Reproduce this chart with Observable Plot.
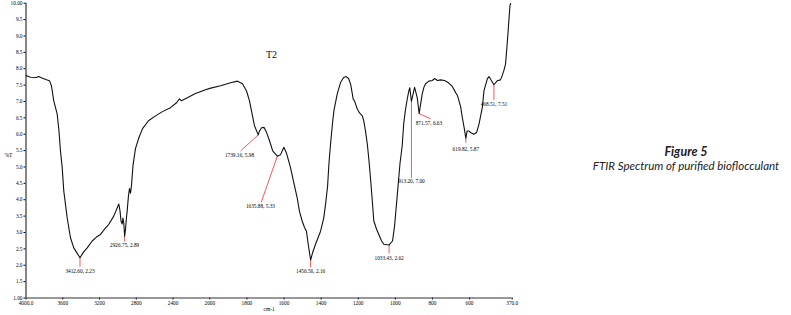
<!DOCTYPE html>
<html>
<head>
<meta charset="utf-8">
<script src="https://cdn.jsdelivr.net/npm/d3@7"></script>
<script src="https://cdn.jsdelivr.net/npm/@observablehq/plot@0.6"></script>
<style>
  html, body { margin: 0; padding: 0; background: #fff; }
  #wrap { position: relative; width: 791px; height: 315px; }
  #caption { position: absolute; left: 576px; top: 145px; width: 220px; text-align: center; font-family: Lato, "Open Sans", sans-serif; font-style: italic; color: #222; }
  #caption .fig { font-weight: bold; font-size: 12.5px; line-height: 14px; }
  #caption .sub { font-size: 11.5px; line-height: 14px; }
  #chart svg text { font-family: 'Liberation Serif', 'DejaVu Serif', serif; }
</style>
</head>
<body>
<div id="wrap">
  <div id="chart"></div>
  <div id="caption"><div class="fig">Figure 5</div><div class="sub">FTIR Spectrum of purified bioflocculant</div></div>
</div>
<script>
// Spectrum (wavenumber cm-1, %T)
const wavenumber = [4000,3951,3886,3864,3820,3777,3744,3723,3698,3661,3641,3625,3606,3589,3552,3516,3480,3451,3412.6,3374,3334,3280,3233,3189,3146,3099,3045,3008,2990,2977,2966,2953,2945,2936,2926.75,2917,2907,2899,2885,2874,2863,2852,2836,2809,2776,2732,2667,2591,2515,2428,2362,2330,2308,2265,2156,2047,2000,1942,1888,1851,1824,1802,1786,1770,1759,1739.16,1732,1721,1708,1694,1678,1661,1635.88,1619,1601,1587,1565,1549,1529,1517,1502,1490,1479,1468,1456.56,1446,1430,1403,1386,1376,1365,1358,1349,1339,1331,1313,1295,1279,1265,1252,1241,1233,1227,1220,1205,1193,1178,1170,1161,1151,1142,1134,1124,1116,1101,1089,1074,1062,1033.43,1015,1004,997,987,975,963,955,946,937,928,922,913.2,896,882,871.57,855,846,837,819,801,789,773,756,735,713,692,675,665,648,638,629,619.82,613,604,594,577,562,549,531,522,504,495,476,468.51,451,433,424,415,406,400,393,388,382,378];
const transmittance = [7.79,7.74,7.73,7.76,7.71,7.66,7.63,7.48,7.02,6.62,6.10,5.49,4.98,4.27,3.45,2.84,2.53,2.40,2.23,2.40,2.53,2.74,2.86,2.94,3.10,3.25,3.50,3.75,3.87,3.66,3.35,3.26,3.44,3.29,2.89,3.10,3.45,3.66,4.12,4.34,4.20,4.43,5.04,5.56,5.86,6.17,6.41,6.56,6.69,6.81,6.96,7.08,7.02,7.08,7.24,7.36,7.40,7.48,7.57,7.62,7.54,7.32,7.02,6.56,6.26,5.98,6.10,6.20,6.21,6.05,5.80,5.49,5.33,5.37,5.60,5.43,4.98,4.57,4.06,3.65,3.35,3.16,3.04,2.58,2.16,2.38,2.64,3.04,3.44,3.86,4.42,5.09,5.71,6.31,6.72,7.23,7.58,7.73,7.76,7.70,7.53,7.27,7.07,7.02,6.77,6.65,6.56,6.41,6.10,5.70,5.19,4.67,3.96,3.35,3.10,2.94,2.74,2.64,2.62,2.74,3.20,3.66,4.30,5.10,5.64,6.31,6.72,7.03,7.30,7.42,7.00,7.43,7.12,6.63,7.23,7.43,7.54,7.62,7.64,7.70,7.64,7.66,7.64,7.57,7.45,7.27,7.18,6.84,6.48,6.20,5.87,6.10,6.10,6.05,6.00,6.05,6.31,6.82,7.33,7.69,7.76,7.58,7.51,7.63,7.66,7.79,7.94,8.14,8.55,9.06,9.47,9.93,9.99];

// Peak annotations
const peakWn = [3412.60, 2926.75, 1739.16, 1635.88, 1456.56, 1033.43, 913.20, 871.57, 619.82, 468.51];
const peakT  = [2.23, 2.89, 5.98, 5.33, 2.16, 2.62, 7.00, 6.63, 5.87, 7.51];
// leader-line ends and label anchors (data units)
const leaderWn = [3412.60, 2926.75, 1834, 1723, 1456.56, 1033.43, 913.20, 810, 619.82, 468.51];
const leaderT  = [1.95, 2.72, 5.49, 3.92, 1.94, 2.36, 4.66, 6.47, 5.74, 7.05];
const labelWn  = [3412.60, 2926.75, 1840, 1727, 1456.56, 1033.43, 913.20, 819, 619.82, 468.51];
const labelT   = [1.82, 2.60, 5.37, 3.79, 1.82, 2.22, 4.55, 6.34, 5.55, 6.92];

// Axes
const xTicks = [4000, 3600, 3200, 2800, 2400, 2000, 1800, 1600, 1400, 1200, 1000, 800, 600, 370];
const xTickLabels = ["4000.0", "3600", "3200", "2800", "2400", "2000", "1800", "1600", "1400", "1200", "1000", "800", "600", "370.0"];
const yTicks = [10, 9.5, 9, 8.5, 8, 7.5, 7, 6.5, 6, 5.5, 5, 4.5, 4, 3.5, 3, 2.5, 2, 1.5, 1];
const yTickLabels = ["10.00", "9.5", "9.0", "8.5", "8.0", "7.5", "7.0", "6.5", "6.0", "5.5", "5.0", "4.5", "4.0", "3.5", "3.0", "2.5", "2.0", "1.5", "1.00"];
const seriesName = "T2";
const xLabel = "cm-1";
const yLabel = "%T";

const spectrum = wavenumber.map((w, i) => ({w, t: transmittance[i]}));
const peaks = peakWn.map((w, i) => ({
  w, t: peakT[i], lw: leaderWn[i], lt: leaderT[i], tw: labelWn[i], tt: labelT[i],
  label: `${w.toFixed(2)}, ${peakT[i].toFixed(2)}`
}));

const serif = "'Liberation Serif', 'DejaVu Serif', serif";
const chart = Plot.plot({
  width: 791,
  height: 315,
  marginLeft: 25.5,
  marginRight: 279.3,
  marginTop: 2.7,
  marginBottom: 17.5,
  style: {fontFamily: serif, fontSize: "5.3px", color: "#000", background: "#fff"},
  x: {type: "linear", domain: [4000, 2000, 370], range: [25.5, 209.3, 511.7], ticks: xTicks,
      tickFormat: d => xTickLabels[xTicks.indexOf(d)], tickSize: 2, tickPadding: 1, label: null},
  y: {domain: [1, 10], ticks: yTicks, tickFormat: d => yTickLabels[yTicks.indexOf(d)],
      tickSize: 2, tickPadding: 1.5, label: null},
  marks: [
    Plot.ruleY([1], {stroke: "#333", strokeWidth: 1.2}),
    Plot.ruleX([4000], {stroke: "#333", strokeWidth: 1.2}),
    Plot.link(peaks, {x1: "w", y1: "t", x2: "lw", y2: "lt", stroke: "#ef5b5b", strokeWidth: 1}),
    Plot.line(spectrum, {x: "w", y: "t", stroke: "#111", strokeWidth: 1.1}),
    Plot.text(peaks, {x: "tw", y: "tt", text: "label", fontSize: 5.3, fill: "#000", lineAnchor: "middle"}),
    Plot.text([seriesName], {frameAnchor: "top-left", dx: 240, dy: 52, text: d => d, fontSize: 10, fill: "#111", lineAnchor: "middle"}),
    Plot.text([xLabel], {frameAnchor: "bottom", dy: 11, text: d => d, fontSize: 5.5, fill: "#000", lineAnchor: "middle"}),
    Plot.text([yLabel], {frameAnchor: "left", dx: -21.5, dy: 5, text: d => d, fontSize: 5.5, fill: "#000", textAnchor: "start", lineAnchor: "middle"})
  ]
});
document.getElementById("chart").appendChild(chart);
</script>
</body>
</html>
